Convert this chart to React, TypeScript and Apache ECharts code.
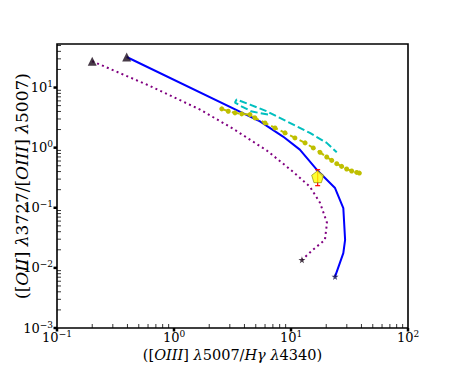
import React, { useEffect, useRef } from "react";
import * as echarts from "echarts";

// ---- data ----
const xMin = 0.1;
const xMax = 100;
const yMin = 0.001;
const yMax = 53;

const blueLine: number[][] = [
  [0.394, 32.2], [5.43, 2.74], [8.55, 1.53], [11.9, 0.926], [16.6, 0.43],
  [23.8, 0.213], [28.0, 0.0989], [29.0, 0.0293], [28.0, 0.0176], [23.8, 0.00716],
];
const purpleLine: number[][] = [
  [0.2, 27.4], [0.624, 10.6], [1.67, 4.3], [3.19, 2.07], [6.24, 0.891],
  [10.4, 0.398], [14.5, 0.224], [17.7, 0.121], [20.3, 0.0562], [19.5, 0.0293],
  [15.4, 0.02], [12.4, 0.0136],
];
const cyanLine: number[][] = [
  [6.36, 3.55], [4.64, 3.98], [3.81, 4.82], [3.32, 5.62], [3.43, 6.31],
  [4.46, 5.21], [6.2, 4.03], [9.19, 2.74], [14.5, 1.76], [20.2, 1.2], [24.6, 0.836],
];
const yellowLine: number[][] = [
  [2.56, 4.42], [2.91, 4.03], [3.32, 3.79], [3.79, 3.65], [4.46, 3.55],
  [4.92, 3.13], [6.0, 2.58], [7.3, 2.13], [8.89, 1.76], [10.8, 1.45],
  [13.2, 1.2], [15.5, 0.989], [17.7, 0.836], [20.2, 0.7], [22.3, 0.614],
  [24.6, 0.541], [27.1, 0.488], [29.9, 0.442], [33.0, 0.409], [36.5, 0.387],
  [38.4, 0.378],
];
const startTriangles: number[][] = [[0.2, 27.4], [0.394, 32.2]];
const endStarPurple: number[][] = [[12.4, 0.0136]];
const endStarBlue: number[][] = [[23.8, 0.00716]];
const observed: number[][] = [[16.9, 0.329]];
const observedErr: number[][] = [[16.9, 0.233, 0.43]];

const xDecades = [0.1, 1, 10, 100];
const yDecades = [0.001, 0.01, 0.1, 1, 10];
const minorMult = [2, 3, 4, 5, 6, 7, 8, 9];

const SERIF = "'DejaVu Serif', 'Liberation Serif', serif";
const STAR = "path://M50,0 L61,35 L98,35 L68,57 L79,91 L50,70 L21,91 L32,57 L2,35 L39,35 Z";
const PENTAGON = "path://M50,0 L100,38 L81,100 L19,100 L0,38 Z";

function powLabel(v: number): string {
  const l = Math.log10(v);
  const r = Math.round(l);
  if (Math.abs(l - r) > 1e-6) return "";
  const e = r < 0 ? "\u2212" + Math.abs(r) : String(r);
  return "{b|10}{e|" + e + "}";
}

const labelRich = {
  b: { fontFamily: SERIF, fontSize: 13, color: "#000", lineHeight: 16 },
  e: { fontFamily: SERIF, fontSize: 9, color: "#000", lineHeight: 8, verticalAlign: "top" },
};

export default function App() {
  const ref = useRef<HTMLDivElement>(null);
  useEffect(() => {
    if (!ref.current) return;
    const chart = echarts.init(ref.current, null, { renderer: "svg" });

    const xMinor: number[][] = [];
    xDecades.slice(0, -1).forEach((d) => minorMult.forEach((m) => xMinor.push([d * m, yMin])));
    const yMinor: number[][] = [];
    yDecades.forEach((d) => minorMult.forEach((m) => { if (d * m < yMax) yMinor.push([xMin, d * m]); }));
    const xMajor = xDecades.map((d) => [d, yMin]);
    const yMajor = yDecades.map((d) => [xMin, d]);

    const tickSeries = (data: number[][], dir: "x" | "y", len: number, w: number) => ({
      type: "custom",
      silent: true,
      clip: false,
      z: 10,
      data,
      renderItem: (params: any, api: any) => {
        const p = api.coord([api.value(0), api.value(1)]);
        const shape = dir === "x"
          ? { x1: p[0], y1: p[1], x2: p[0], y2: p[1] - len }
          : { x1: p[0], y1: p[1], x2: p[0] + len, y2: p[1] };
        return { type: "line", shape, style: { stroke: "#000", lineWidth: w } };
      },
    });

    chart.setOption({
      animation: false,
      backgroundColor: "#fff",
      grid: {
        left: 57, right: 46, top: 44, bottom: 43, show: true,
        borderColor: "#000", borderWidth: 1.6, backgroundColor: "transparent",
        containLabel: false, outerBoundsMode: "none",
      },
      xAxis: {
        type: "log",
        logBase: 10,
        min: xMin,
        max: xMax,
        axisLine: { show: false },
        axisTick: { show: false },
        splitLine: { show: false },
        axisLabel: { formatter: powLabel, rich: labelRich, margin: 1, showMinLabel: true, showMaxLabel: true, hideOverlap: false },
        name: "([{i|OIII}] {i|λ}5007/{i|Hγ} {i|λ}4340)",
        nameLocation: "middle",
        nameGap: 19,
        nameMoveOverlap: false,
        nameTextStyle: {
          fontFamily: SERIF, fontSize: 14.5, color: "#000",
          rich: { i: { fontFamily: SERIF, fontSize: 14.5, fontStyle: "italic", color: "#000" } },
        },
      },
      yAxis: {
        type: "log",
        logBase: 10,
        min: yMin,
        max: yMax,
        axisLine: { show: false },
        axisTick: { show: false },
        splitLine: { show: false },
        axisLabel: { formatter: powLabel, rich: labelRich, margin: 4, showMaxLabel: false, hideOverlap: false },
        name: "([{i|OII}] {i|λ}3727/[{i|OIII}] {i|λ}5007)",
        nameLocation: "middle",
        nameRotate: 90,
        nameGap: 27,
        nameMoveOverlap: false,
        nameTextStyle: {
          fontFamily: SERIF, fontSize: 17, color: "#000",
          rich: { i: { fontFamily: SERIF, fontSize: 17, fontStyle: "italic", color: "#000" } },
        },
      },
      series: [
        {
          type: "line", data: purpleLine, showSymbol: false, z: 2,
          lineStyle: { color: "#800080", width: 2, type: [2, 3.3] },
        },
        {
          type: "line", data: blueLine, showSymbol: false, z: 3,
          lineStyle: { color: "#0000ff", width: 2 },
        },
        {
          type: "line", data: cyanLine, showSymbol: false, z: 3,
          lineStyle: { color: "#00bfbf", width: 2, type: [7.4, 3.2] },
        },
        {
          type: "line", data: yellowLine, symbol: "circle", symbolSize: 5, z: 4,
          itemStyle: { color: "#bfbf00" },
          lineStyle: { color: "#bfbf00", width: 2, type: [7.4, 3.2] },
        },
        {
          type: "scatter", data: startTriangles, symbol: "triangle", symbolSize: 9, z: 6,
          itemStyle: { color: "#1a0a1a" },
        },
        {
          type: "scatter", data: endStarPurple, symbol: STAR, symbolSize: 7, z: 6,
          itemStyle: { color: "#1a0a1a" },
        },
        {
          type: "scatter", data: endStarBlue, symbol: STAR, symbolSize: 7, z: 6,
          itemStyle: { color: "#0a0a50" },
        },
        {
          type: "custom", data: observedErr, z: 7, silent: true,
          renderItem: (params: any, api: any) => {
            const lo = api.coord([api.value(0), api.value(1)]);
            const hi = api.coord([api.value(0), api.value(2)]);
            const st = { stroke: "#ff0000", lineWidth: 1.2 };
            return {
              type: "group",
              children: [
                { type: "line", shape: { x1: lo[0], y1: lo[1], x2: hi[0], y2: hi[1] }, style: st },
                { type: "line", shape: { x1: lo[0] - 2.5, y1: lo[1], x2: lo[0] + 2.5, y2: lo[1] }, style: st },
                { type: "line", shape: { x1: hi[0] - 2.5, y1: hi[1], x2: hi[0] + 2.5, y2: hi[1] }, style: st },
              ],
            };
          },
        },
        {
          type: "scatter", data: observed, symbol: PENTAGON, symbolSize: 12, z: 8,
          itemStyle: { color: "#ffff00", borderColor: "#808000", borderWidth: 0.8 },
        },
        tickSeries(xMinor, "x", 4, 0.8),
        tickSeries(yMinor, "y", 4, 0.8),
        tickSeries(xMajor, "x", -3.5, 2.5),
        tickSeries(yMajor, "y", -3.5, 2.5),
      ],
    });
    return () => chart.dispose();
  }, []);
  return <div ref={ref} style={{ position: "fixed", left: 0, top: 0, width: 454, height: 371 }} />;
}
